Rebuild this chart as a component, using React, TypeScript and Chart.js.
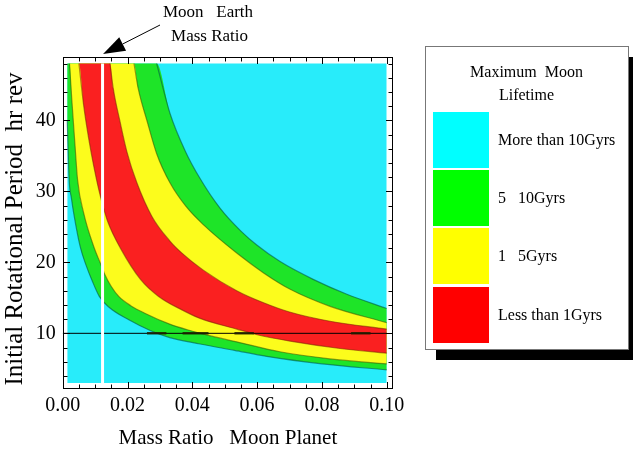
import React, { useEffect, useRef } from 'react';
import { Chart, registerables } from 'chart.js';

Chart.register(...registerables);

const FONT = "'Liberation Serif', 'Times New Roman', serif";

// Axis ticks
const xTickValues = [0, 0.02, 0.04, 0.06, 0.08, 0.1];
const xMinorTicks = [0.005, 0.01, 0.015, 0.025, 0.03, 0.035, 0.045, 0.05, 0.055, 0.065, 0.07, 0.075, 0.085, 0.09, 0.095];
const yTickValues = [10, 20, 30, 40];
const yMinorTicks = [4, 6, 8, 12, 14, 16, 18, 22, 24, 26, 28, 32, 34, 36, 38, 42, 44, 46, 48];

// Extent of the computed region
const dataLeft = 0.0014;
const dataRight = 0.1;
const dataTop = 48;
const dataBottom = 3;

const moonEarthRatio = 0.0123;
const referencePeriod = 10;

// Band boundaries (mass ratio -> initial period, hr)
// B1: cyan / green (lower)
const b1X = [0.0014, 0.002, 0.0027, 0.0034, 0.0054, 0.0072, 0.009, 0.0113, 0.0142, 0.0204, 0.027, 0.033, 0.0424, 0.053, 0.063, 0.08, 0.1];
const b1Y = [40, 31.6, 29.0, 26.9, 22.2, 19.6, 17.5, 15.2, 13.7, 11.9, 10.4, 9.4, 8.5, 7.6, 6.75, 5.7, 4.85];
// B2: green / yellow (lower)
const b2X = [0.0014, 0.0021, 0.0028, 0.0038, 0.0046, 0.0065, 0.0096, 0.0116, 0.013, 0.015, 0.0173, 0.021, 0.0255, 0.033, 0.0385, 0.046, 0.0537, 0.067, 0.0825, 0.1];
const b2Y = [48, 48, 43, 36.5, 31.6, 26.9, 22.2, 19.9, 18.3, 16.6, 15.2, 13.9, 12.8, 11.3, 10.5, 9.6, 8.8, 7.4, 6.4, 5.7];
// B3: yellow / red (lower)
const b3X = [0.0014, 0.005, 0.0065, 0.008, 0.0096, 0.0111, 0.0125, 0.014, 0.0178, 0.024, 0.0296, 0.0368, 0.0424, 0.0537, 0.06, 0.0702, 0.085, 0.1];
const b3Y = [48, 48, 42, 37.5, 33.5, 30.3, 27.8, 25.6, 22.0, 17.6, 15.2, 13.3, 12.1, 10.6, 9.8, 8.9, 7.9, 7.2];
// B4: red / yellow (upper)
const b4X = [0.0014, 0.0146, 0.0156, 0.0177, 0.0198, 0.0229, 0.0275, 0.0331, 0.0368, 0.0434, 0.0537, 0.062, 0.07, 0.0825, 0.1];
const b4Y = [48, 48, 44.5, 39.8, 35.6, 31.2, 26.5, 23.0, 21.3, 18.9, 16.0, 14.3, 13.0, 11.7, 10.6];
// B5: yellow / green (upper)
const b5X = [0.0014, 0.022, 0.0233, 0.0261, 0.029, 0.0331, 0.038, 0.0434, 0.0537, 0.062, 0.0702, 0.0825, 0.1];
const b5Y = [48, 48, 44.5, 39.8, 35.3, 31.2, 27.9, 25.3, 21.3, 18.5, 16.2, 13.8, 11.5];
// B6: green / cyan (upper)
const b6X = [0.0014, 0.029, 0.0331, 0.0377, 0.0424, 0.0486, 0.055, 0.06, 0.0671, 0.0773, 0.0877, 0.1];
const b6Y = [48, 48, 41.0, 35.8, 31.8, 27.6, 24.4, 22.4, 20.1, 17.6, 15.5, 13.5];

// dark contour fragments lying on the 10 hr line
const dashStarts = [0.026, 0.037, 0.053, 0.089];
const dashEnds = [0.032, 0.045, 0.059, 0.095];

const legendTitle = ['Maximum  Moon', 'Lifetime'];
const legendLabels = ['More than 10Gyrs', '5   10Gyrs', '1   5Gyrs', 'Less than 1Gyrs'];
const legendColors = ['#00ffff', '#00ff00', '#ffff00', '#ff0000'];

const bandCyan = 'rgb(40,236,250)';
const bandGreen = 'rgb(30,228,40)';
const bandYellow = 'rgb(252,252,28)';
const bandRed = 'rgb(250,32,32)';

const pts = (xs: number[], ys: number[]) => xs.map((x, i) => ({ x, y: ys[i] }));
// visible part of a boundary: drop the stretch that runs along the top edge
const visiblePts = (xs: number[], ys: number[]) => {
  const all = pts(xs, ys);
  let start = 0;
  while (start + 1 < all.length && all[start + 1].y >= dataTop) start++;
  return all.slice(start);
};

const overlayPlugin = {
  id: 'overlay',
  afterDraw(chart: any) {
    const { ctx, chartArea, scales } = chart;
    const { left, right, top, bottom } = chartArea;
    const xs = scales.x;
    const ys = scales.y;
    ctx.save();
    ctx.strokeStyle = '#000';
    ctx.lineWidth = 1;
    const L = Math.round(left) + 0.5;
    const R = Math.round(right) - 0.5;
    const T = Math.round(top) + 0.5;
    const B = Math.round(bottom) - 0.5;
    ctx.strokeRect(L, T, R - L, B - T);
    const tick = (vals: number[], len: number, horiz: boolean) => {
      vals.forEach((v) => {
        ctx.beginPath();
        if (horiz) {
          const p = Math.round(xs.getPixelForValue(v)) + 0.5;
          ctx.moveTo(p, B); ctx.lineTo(p, B - len);
          ctx.moveTo(p, T); ctx.lineTo(p, T + len);
        } else {
          const p = Math.round(ys.getPixelForValue(v)) + 0.5;
          ctx.moveTo(L, p); ctx.lineTo(L + len, p);
          ctx.moveTo(R, p); ctx.lineTo(R - len, p);
        }
        ctx.stroke();
      });
    };
    tick(xTickValues, 6.5, true);
    tick(xMinorTicks, 4, true);
    tick(yTickValues, 6.5, false);
    tick(yMinorTicks, 4, false);

    // annotation
    ctx.fillStyle = '#000';
    ctx.font = `17px ${FONT}`;
    ctx.textAlign = 'center';
    ctx.textBaseline = 'alphabetic';
    ctx.fillText('Moon   Earth', 208, 17);
    ctx.fillText('Mass Ratio', 209.5, 41);
    const tipX = xs.getPixelForValue(moonEarthRatio) + 0.5;
    const tipY = 54;
    const tailX = 160;
    const tailY = 25;
    const dx = tailX - tipX;
    const dy = tailY - tipY;
    const d = Math.hypot(dx, dy);
    const ux = dx / d;
    const uy = dy / d;
    const headLen = 22;
    const half = 7.5;
    const bx = tipX + ux * headLen;
    const by = tipY + uy * headLen;
    ctx.beginPath();
    ctx.moveTo(bx, by);
    ctx.lineTo(tailX, tailY);
    ctx.stroke();
    ctx.beginPath();
    ctx.moveTo(tipX, tipY);
    ctx.lineTo(bx - uy * half, by + ux * half);
    ctx.lineTo(bx + uy * half, by - ux * half);
    ctx.closePath();
    ctx.fill();

    // legend box
    ctx.fillStyle = '#000';
    ctx.fillRect(436, 57, 200, 303);
    ctx.fillStyle = '#fff';
    ctx.fillRect(425, 46, 204, 304);
    ctx.strokeStyle = '#777';
    ctx.strokeRect(425.5, 46.5, 203, 303);
    ctx.fillStyle = '#000';
    ctx.font = `16px ${FONT}`;
    ctx.textAlign = 'center';
    ctx.fillText(legendTitle[0], 526.5, 77);
    ctx.fillText(legendTitle[1], 526.5, 100);
    const swTop = [112, 170, 228, 287];
    ctx.textAlign = 'left';
    ctx.textBaseline = 'middle';
    legendLabels.forEach((lab, i) => {
      ctx.fillStyle = legendColors[i];
      ctx.fillRect(433, swTop[i], 56, 56);
      ctx.fillStyle = '#000';
      ctx.fillText(lab, 498, swTop[i] + 29);
    });
    ctx.restore();
  },
};

export default function App() {
  const ref = useRef<HTMLCanvasElement>(null);
  useEffect(() => {
    if (!ref.current) return;
    const dashData: any[] = [];
    dashStarts.forEach((s, i) => {
      dashData.push({ x: s, y: referencePeriod });
      dashData.push({ x: dashEnds[i], y: referencePeriod });
      dashData.push({ x: dashEnds[i] + 0.0005, y: null });
    });
    const bandArea = (xs: number[], ys: number[], extra: any) => ({
      data: pts(xs, ys),
      borderColor: 'rgba(0,0,0,0)',
      borderWidth: 0,
      pointRadius: 0,
      cubicInterpolationMode: 'monotone',
      fill: false,
      ...extra,
    });
    const edgeLine = (xs: number[], ys: number[], color: string) => ({
      data: visiblePts(xs, ys),
      borderColor: color,
      borderWidth: 1.2,
      pointRadius: 0,
      cubicInterpolationMode: 'monotone',
      fill: false,
      order: 3,
    });
    const chart = new Chart(ref.current, {
      type: 'line',
      data: {
        datasets: [
          {
            data: [{ x: dataLeft, y: dataTop }, { x: dataRight, y: dataTop }],
            borderWidth: 0,
            borderColor: 'rgba(0,0,0,0)',
            backgroundColor: bandCyan,
            pointRadius: 0,
            fill: { value: dataBottom },
            order: 10,
          },
          bandArea(b1X, b1Y, { order: 4 }),
          bandArea(b2X, b2Y, { order: 4 }),
          bandArea(b3X, b3Y, { order: 4 }),
          bandArea(b4X, b4Y, { order: 7, fill: 3, backgroundColor: bandRed }),
          bandArea(b5X, b5Y, { order: 8, fill: 2, backgroundColor: bandYellow }),
          bandArea(b6X, b6Y, { order: 9, fill: 1, backgroundColor: bandGreen }),
          edgeLine(b1X, b1Y, 'rgba(0,90,70,0.6)'),
          edgeLine(b2X, b2Y, 'rgba(60,80,0,0.55)'),
          edgeLine(b3X, b3Y, 'rgba(120,40,0,0.55)'),
          edgeLine(b4X, b4Y, 'rgba(120,40,0,0.55)'),
          edgeLine(b5X, b5Y, 'rgba(60,80,0,0.55)'),
          edgeLine(b6X, b6Y, 'rgba(0,90,70,0.6)'),
          {
            data: [{ x: 0, y: referencePeriod }, { x: dataRight, y: referencePeriod }],
            borderColor: '#000',
            borderWidth: 1,
            pointRadius: 0,
            fill: false,
            order: 2,
          },
          {
            data: dashData,
            borderColor: 'rgba(30,30,0,0.85)',
            borderWidth: 2.5,
            pointRadius: 0,
            spanGaps: false,
            fill: false,
            order: 1,
          },
          {
            data: [{ x: moonEarthRatio, y: dataBottom }, { x: moonEarthRatio, y: dataTop }],
            borderColor: '#fff',
            borderWidth: 3,
            pointRadius: 0,
            fill: false,
            order: 0,
          },
        ] as any,
      },
      options: {
        responsive: false,
        devicePixelRatio: 1,
        animation: false,
        layout: { padding: { top: 56.7, right: 240, bottom: 0, left: 0 } },
        plugins: { legend: { display: false }, tooltip: { enabled: false } },
        scales: {
          x: {
            type: 'linear',
            min: 0,
            max: 0.10194,
            afterBuildTicks: (s: any) => {
              s.ticks = xTickValues.map((value) => ({ value }));
            },
            afterFit: (s: any) => {
              s.height = 67.3;
            },
            ticks: {
              callback: (v: any) => Number(v).toFixed(2),
              font: { family: FONT, size: 20 },
              color: '#000',
              padding: 5,
              maxRotation: 0,
              autoSkip: false,
            },
            grid: { display: false, drawTicks: false },
            border: { display: false },
            title: {
              display: true,
              text: 'Mass Ratio   Moon Planet',
              font: { family: FONT, size: 21 },
              color: '#000',
              padding: { top: 0, bottom: 5 },
            },
          },
          y: {
            type: 'linear',
            min: 2.2,
            max: 48.96,
            afterBuildTicks: (s: any) => {
              s.ticks = yTickValues.map((value) => ({ value }));
            },
            afterFit: (s: any) => {
              s.width = 62.7;
            },
            ticks: {
              callback: (v: any) => String(v),
              font: { family: FONT, size: 20 },
              color: '#000',
              padding: 7,
              autoSkip: false,
            },
            grid: { display: false, drawTicks: false },
            border: { display: false },
            title: {
              display: true,
              text: 'Initial Rotational Period  hr rev  ',
              font: { family: FONT, size: 25 },
              color: '#000',
              padding: { top: 0, bottom: 0 },
            },
          },
        },
      } as any,
      plugins: [overlayPlugin],
    });
    return () => chart.destroy();
  }, []);
  return (
    <div style={{ position: 'fixed', left: 0, top: 0, width: 633, height: 456, background: '#fff' }}>
      <canvas ref={ref} width={633} height={456} style={{ display: 'block' }} />
    </div>
  );
}
